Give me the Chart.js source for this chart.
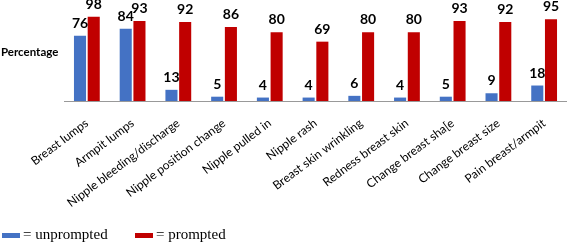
<!DOCTYPE html>
<html><head><meta charset="utf-8">
<script src="https://cdn.jsdelivr.net/npm/chart.js@4"></script>
<style>html,body{margin:0;padding:0;background:#fff}#w{width:567px;height:244px}</style>
</head><body><div id="w"><canvas id="c"></canvas></div>
<script>
const categories = ["Breast lumps","Armpit lumps","Nipple bleeding/discharge","Nipple position change","Nipple pulled in","Nipple rash","Breast skin wrinkling","Redness breast skin","Change breast sha[e","Change breast size","Pain breast/armpit"];
const unprompted = [76,84,13,5,4,4,6,4,5,9,18];
const prompted = [98,93,92,86,80,69,80,80,93,92,95];
const seriesNames = ["= unprompted","= prompted"];
const yTitle = "Percentage";

const labelPlugin = {
  id:'lbl',
  afterDatasetsDraw(chart){
    const ctx = chart.ctx;
    ctx.save();
    ctx.font = 'bold 14px Lato';
    ctx.fillStyle = '#000';
    ctx.textAlign = 'center';
    ctx.textBaseline = 'alphabetic';
    chart.data.datasets.forEach((ds,i)=>{
      chart.getDatasetMeta(i).data.forEach((bar,j)=>{
        ctx.fillText(String(ds.data[j]), bar.x, bar.y - 8);
      });
    });
    // y title
    ctx.font = 'bold 11.5px Lato';
    ctx.textAlign = 'left';
    ctx.textBaseline = 'middle';
    ctx.fillText(yTitle, 1, 52);
    // legend
    ctx.font = '15px "Liberation Serif"';
    let x = 2;
    const y = 235;
    chart.data.datasets.forEach((ds,i)=>{
      ctx.fillStyle = ds.backgroundColor;
      ctx.fillRect(x, y-2, 18, 5);
      ctx.fillStyle = '#000';
      ctx.fillText(ds.label, x+21, y);
      x += 133;
    });
    ctx.restore();
  }
};

new Chart(document.getElementById('c'), {
  type:'bar',
  data:{
    labels: categories,
    datasets:[
      {label: seriesNames[0], data: unprompted, backgroundColor:'#4472C4'},
      {label: seriesNames[1], data: prompted, backgroundColor:'#C00000'}
    ]
  },
  options:{
    responsive:true, maintainAspectRatio:false, animation:false,
    layout:{padding:{top:15,right:0,bottom:0,left:0}},
    categoryPercentage:0.6, barPercentage:0.88,
    plugins:{legend:{display:false}, tooltip:{enabled:false}},
    scales:{
      x:{
        grid:{display:false},
        border:{display:true,color:'#999',width:1},
        ticks:{maxRotation:37,minRotation:37,autoSkip:false,color:'#000',font:{family:'Lato',size:12},padding:7},
        afterFit(s){ s.height = 143; }
      },
      y:{
        min:0,max:100,
        display:true,
        grid:{display:false},
        border:{display:false},
        ticks:{display:false},
        afterFit(s){ s.width = 64; }
      }
    }
  },
  plugins:[labelPlugin]
});
</script></body></html>
